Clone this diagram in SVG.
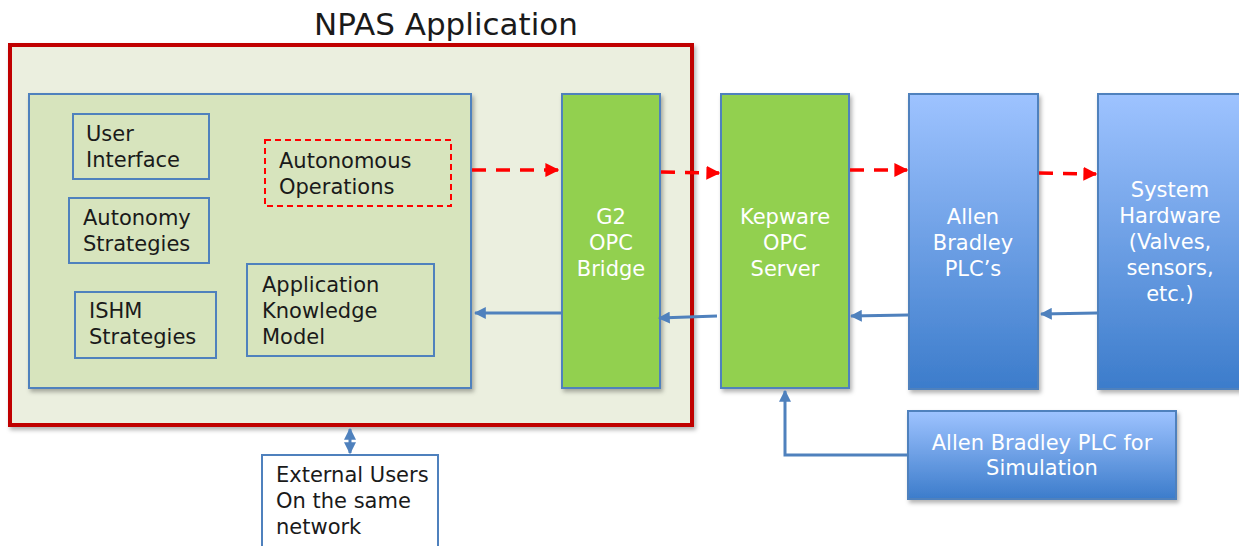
<svg xmlns="http://www.w3.org/2000/svg" width="1239" height="546" viewBox="0 0 1239 546">
<style>
.t{font-family:"DejaVu Sans","Liberation Sans",sans-serif;font-size:21px;fill:#1a1a1a}
.w{font-family:"DejaVu Sans","Liberation Sans",sans-serif;font-size:21px;fill:#ffffff;text-anchor:middle}
.box{fill:#D7E4BD;stroke:#4F81BD;stroke-width:2}
.wbox{fill:#ffffff;stroke:#4F81BD;stroke-width:2}
.green{fill:#92D050;stroke:#4F81BD;stroke-width:2}
.blue{fill:url(#bg);stroke:#4F81BD;stroke-width:2}
.red{fill:none;stroke:#FF0000;stroke-width:3.5;stroke-dasharray:14 10}
.bl{fill:none;stroke:#4F81BD;stroke-width:3}
</style>
<defs>
<linearGradient id="bg" x1="0" y1="0" x2="0" y2="1">
<stop offset="0" stop-color="#9EC3FF"/>
<stop offset="1" stop-color="#3C7CCB"/>
</linearGradient>
<filter id="sh" x="-5%" y="-5%" width="115%" height="115%">
<feDropShadow dx="2" dy="3" stdDeviation="2" flood-color="#000" flood-opacity="0.3"/>
</filter>
<marker id="ra" viewBox="0 0 10 10" refX="9" refY="5" markerWidth="4" markerHeight="4" orient="auto" markerUnits="strokeWidth">
<path d="M0,0 L10,5 L0,10 z" fill="#FF0000"/>
</marker>
<marker id="ba" viewBox="0 0 10 10" refX="9" refY="5" markerWidth="4" markerHeight="4" orient="auto-start-reverse" markerUnits="strokeWidth">
<path d="M0,0 L10,5 L0,10 z" fill="#4F81BD"/>
</marker>
</defs>
<rect width="1239" height="546" fill="#ffffff"/>

<g id="npas">
<text x="446" y="35" style="font-family:'DejaVu Sans','Liberation Sans',sans-serif;font-size:31px;fill:#1a1a1a" text-anchor="middle">NPAS Application</text>
<rect x="10" y="45" width="682" height="380" fill="#EBEFDF" stroke="#C00000" stroke-width="4" filter="url(#sh)"/>
</g>

<g id="app">
<rect x="29" y="94" width="442" height="294" class="box" filter="url(#sh)"/>
</g>
<g id="user-interface">
<rect x="73" y="114" width="136" height="65" class="box"/>
<text class="t" x="86" y="141">User</text>
<text class="t" x="86" y="167">Interface</text>
</g>
<g id="autonomous-ops">
<rect x="265" y="140" width="186" height="66" fill="none" stroke="#FF0000" stroke-width="2" stroke-dasharray="6 4"/>
<text class="t" x="279" y="168">Autonomous</text>
<text class="t" x="279" y="194">Operations</text>
</g>
<g id="autonomy-strategies">
<rect x="69" y="198" width="140" height="65" class="box"/>
<text class="t" x="83" y="225">Autonomy</text>
<text class="t" x="83" y="251">Strategies</text>
</g>
<g id="ishm">
<rect x="75" y="292" width="141" height="66" class="box"/>
<text class="t" x="89" y="318">ISHM</text>
<text class="t" x="89" y="344">Strategies</text>
</g>
<g id="akm">
<rect x="247" y="264" width="187" height="92" class="box"/>
<text class="t" x="262" y="292">Application</text>
<text class="t" x="262" y="318">Knowledge</text>
<text class="t" x="262" y="344">Model</text>
</g>

<g id="g2">
<rect x="562" y="94" width="98" height="294" class="green" filter="url(#sh)"/>
<text class="w" x="611" y="224">G2</text>
<text class="w" x="611" y="250">OPC</text>
<text class="w" x="611" y="276">Bridge</text>
</g>

<line x1="692" y1="45" x2="692" y2="425" stroke="#C00000" stroke-width="4"/>

<g id="kepware">
<rect x="721" y="94" width="128" height="294" class="green" filter="url(#sh)"/>
<text class="w" x="785" y="224">Kepware</text>
<text class="w" x="785" y="250">OPC</text>
<text class="w" x="785" y="276">Server</text>
</g>

<g id="plc">
<rect x="909" y="94" width="129" height="295" class="blue" filter="url(#sh)"/>
<text class="w" x="973" y="224">Allen</text>
<text class="w" x="973" y="250">Bradley</text>
<text class="w" x="973" y="276">PLC’s</text>
</g>

<g id="hardware">
<rect x="1098" y="94" width="150" height="295" class="blue" filter="url(#sh)"/>
<text class="w" x="1170" y="197">System</text>
<text class="w" x="1170" y="223">Hardware</text>
<text class="w" x="1170" y="249">(Valves,</text>
<text class="w" x="1170" y="275">sensors,</text>
<text class="w" x="1170" y="301">etc.)</text>
</g>

<g id="sim-plc">
<rect x="908" y="411" width="268" height="88" class="blue" filter="url(#sh)"/>
<text class="w" x="1042" y="450">Allen Bradley PLC for</text>
<text class="w" x="1042" y="475">Simulation</text>
</g>

<g id="external">
<rect x="262" y="455" width="176" height="100" class="wbox"/>
<text class="t" x="276" y="482">External Users</text>
<text class="t" x="276" y="508">On the same</text>
<text class="t" x="276" y="534">network</text>
</g>

<g id="connectors">
<line class="red" x1="472" y1="170" x2="558" y2="170" marker-end="url(#ra)"/>
<line class="red" x1="661" y1="172" x2="719" y2="173" marker-end="url(#ra)"/>
<line class="red" x1="850" y1="170" x2="907" y2="170" marker-end="url(#ra)"/>
<line class="red" x1="1039" y1="173" x2="1096" y2="174" marker-end="url(#ra)"/>
<line class="bl" x1="561" y1="313" x2="475" y2="313" marker-end="url(#ba)"/>
<line class="bl" x1="717" y1="316" x2="659" y2="318" marker-end="url(#ba)"/>
<line class="bl" x1="908" y1="315" x2="851" y2="316" marker-end="url(#ba)"/>
<line class="bl" x1="1097" y1="313" x2="1041" y2="314" marker-end="url(#ba)"/>
<polyline class="bl" points="908,455 785,455 785,391" marker-end="url(#ba)"/>
<line class="bl" x1="350" y1="429" x2="350" y2="453" marker-start="url(#ba)" marker-end="url(#ba)"/>
</g>
</svg>
